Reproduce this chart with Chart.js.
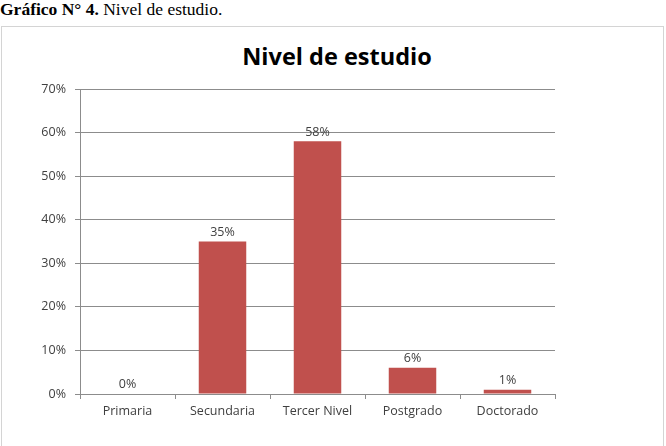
<!DOCTYPE html>
<html>

<head>
    <script src="https://cdn.jsdelivr.net/npm/chart.js@4.4.0/dist/chart.umd.min.js"></script>

    <style>
        body {
            margin: 0;
            width: 666px;
            height: 446px;
            overflow: hidden;
            background: #fff;
            position: relative;
        }

        #caption {
            position: absolute;
            left: 0;
            top: -1px;
            font-family: 'Liberation Serif', 'Times New Roman', serif;
            font-size: 17.5px;
            color: #000;
            white-space: nowrap;
        }

        #box {
            position: absolute;
            left: 1px;
            top: 26px;
            width: 661px;
            height: 440px;
            border: 1px solid #d4d4d4;
        }

        #title {
            position: absolute;
            left: 0;
            width: 674px;
            top: 40px;
            text-align: center;
            font-family: 'Open Sans', sans-serif;
            font-weight: bold;
            font-size: 23.5px;
            color: #000;
        }

        canvas {
            position: absolute;
            left: 0;
            top: 0;
        }
    </style>
    <title>Nivel de estudio</title>
</head>

<body>
    <div id="caption"><b>Gráfico N° 4.</b> Nivel de estudio.</div>
    <div id="box"></div>
    <div id="title">Nivel de estudio</div>
    <div style="position: absolute; left: 0; top: 0; width: 666px; height: 446px;">
        <canvas id="myChart"></canvas>
    </div>

    <script>
        var labels = ['Primaria', 'Secundaria', 'Tercer Nivel', 'Postgrado', 'Doctorado'];
        var values = [0, 35, 58, 6, 1];
        var yTicks = [0, 10, 20, 30, 40, 50, 60, 70];

        var textColor = '#404040';
        var lineColor = '#8c8c8c';
        var fontFamily = "'Open Sans', sans-serif";

        // writes the value above each bar
        var barLabels = {
            id: 'barLabels',
            afterDatasetsDraw: function (chart) {
                var ctx = chart.ctx;
                var meta = chart.getDatasetMeta(0);
                ctx.save();
                ctx.font = '12.5px ' + fontFamily;
                ctx.fillStyle = textColor;
                ctx.textAlign = 'center';
                ctx.textBaseline = 'bottom';
                meta.data.forEach(function (bar, i) {
                    ctx.fillText(values[i] + '%', bar.x, bar.y - 3);
                });
                ctx.restore();
            }
        };

        var ctx = document.getElementById('myChart').getContext('2d');

        var myChart = new Chart(ctx, {
            type: 'bar',
            data: {
                labels: labels,
                datasets: [{
                    data: values,
                    backgroundColor: '#C0504D',
                    borderWidth: 0,
                    barPercentage: 0.5,
                    categoryPercentage: 1
                }]
            },
            plugins: [barLabels],
            options: {
                responsive: true,
                maintainAspectRatio: false,
                animation: false,
                layout: {
                    padding: { top: 89, right: 111, bottom: 22, left: 0 }
                },
                plugins: {
                    legend: { display: false },
                    tooltip: { enabled: false }
                },
                scales: {
                    x: {
                        afterFit: function (scale) { scale.height = 30; },
                        border: { color: lineColor },
                        grid: {
                            offset: true,
                            drawOnChartArea: false,
                            tickLength: 5,
                            color: lineColor
                        },
                        ticks: {
                            padding: 5,
                            color: textColor,
                            font: { family: fontFamily, size: 12.5 }
                        }
                    },
                    y: {
                        min: 0,
                        max: 70,
                        afterFit: function (scale) { scale.width = 80; },
                        afterBuildTicks: function (scale) {
                            scale.ticks = yTicks.map(function (v) { return { value: v }; });
                        },
                        border: { color: lineColor },
                        grid: {
                            tickLength: 5,
                            color: lineColor
                        },
                        ticks: {
                            padding: 9,
                            color: textColor,
                            font: { family: fontFamily, size: 12.5 },
                            callback: function (v) { return v + '%'; }
                        }
                    }
                }
            }
        });
    </script>
</body>

</html>
